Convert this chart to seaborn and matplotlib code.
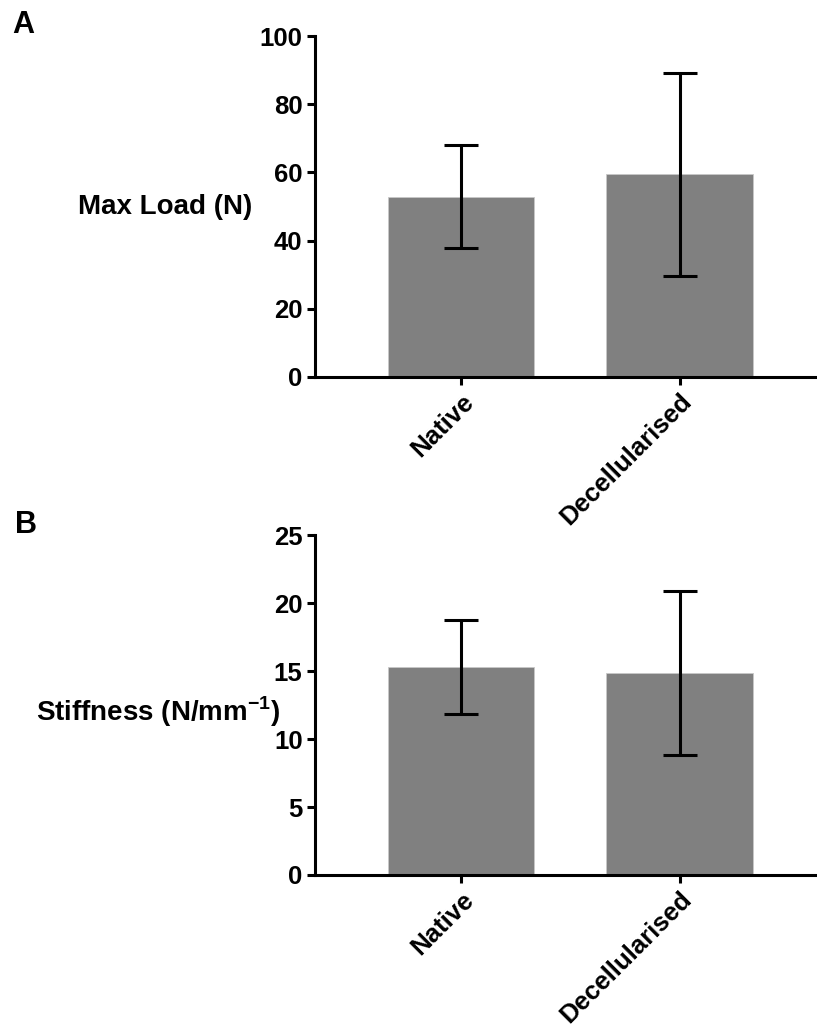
import seaborn as sns
import matplotlib.pyplot as plt
import numpy as np

groups = ["Native", "Decellularised"]
max_load = [52.9, 59.4]
max_load_sd = [15.2, 29.8]
stiffness = [15.3, 14.85]
stiffness_sd = [3.43, 6.03]

sns.set_style("ticks", {"axes.edgecolor": "black", "text.color": "black",
                        "xtick.color": "black", "ytick.color": "black",
                        "axes.labelcolor": "black"})
plt.rcParams['font.family'] = ['Liberation Sans', 'DejaVu Sans']
plt.rcParams['font.weight'] = 'bold'
plt.rcParams['mathtext.fontset'] = 'custom'
plt.rcParams['mathtext.rm'] = 'Liberation Sans:bold'
plt.rcParams['mathtext.bf'] = 'Liberation Sans:bold'

fig = plt.figure(figsize=(8.17, 10.3), dpi=100)
ax1 = fig.add_axes([0.3856, 0.634, 0.6144, 0.331])
ax2 = fig.add_axes([0.3856, 0.1505, 0.6144, 0.330])


def panel(ax, vals, sds, ylabel, ymax, step, lx, ly):
    sns.barplot(x=groups, y=vals, color="#808080", saturation=1, errorbar=None,
                width=0.67, edgecolor="#c8c8c8", linewidth=0.6, ax=ax)
    ax.errorbar(np.arange(len(groups)), vals, yerr=sds, fmt="none", ecolor="black",
                elinewidth=2.2, capsize=12, capthick=2.2, zorder=3)
    ax.set_xlim(-0.67, 1.63)
    ax.set_ylim(0, ymax)
    ax.set_yticks(np.arange(0, ymax + 1, step))
    sns.despine(ax=ax)
    for s in ["left", "bottom"]:
        ax.spines[s].set_linewidth(2.2)
    ax.tick_params(width=2.2, length=6, labelsize=18.5, pad=3)
    ax.set_xticks(range(len(groups)))
    ax.set_xticklabels(groups, rotation=45, ha="right", rotation_mode="anchor",
                       fontweight="bold")
    for t in ax.get_yticklabels():
        t.set_fontweight("bold")
    ax.set_ylabel(ylabel, rotation=0, ha="right", va="center", fontsize=20,
                  fontweight="bold")
    ax.yaxis.set_label_coords(lx, ly)


panel(ax1, max_load, max_load_sd, "Max Load (N)", 100, 20, -0.125, 0.50)
panel(ax2, stiffness, stiffness_sd, r"Stiffness (N/mm$^{\mathbf{-1}}$)", 25, 5, -0.07, 0.48)

fig.text(0.0147, 0.990, "A", fontsize=22, fontweight="bold", va="top")
fig.text(0.018, 0.505, "B", fontsize=22, fontweight="bold", va="top")

plt.savefig("out.png", dpi=100)
